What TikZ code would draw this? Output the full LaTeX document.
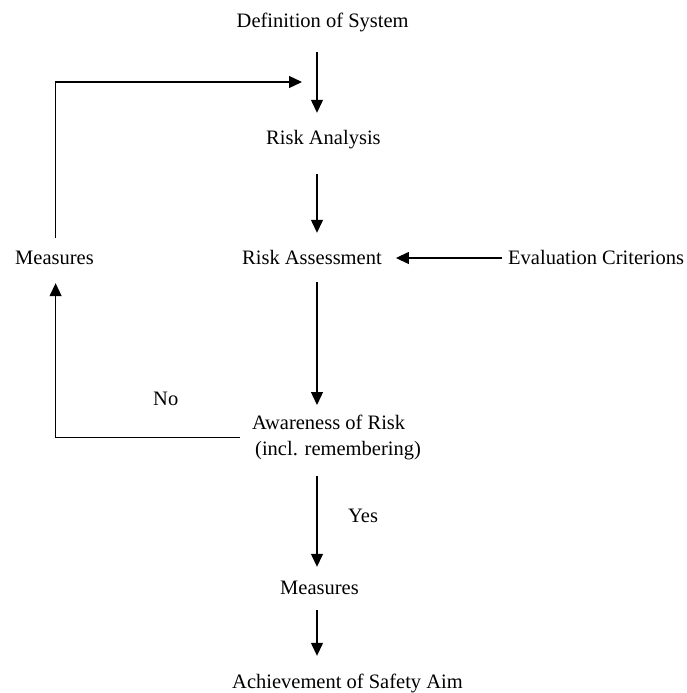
\documentclass[tikz,border=0pt]{standalone}
\usepackage{fontspec}
\setmainfont{Liberation Serif}
\usetikzlibrary{arrows.meta}
\begin{document}
\begin{tikzpicture}[x=1pt,y=-1pt,
  txt/.style={font=\fontsize{20.5}{26}\selectfont, inner sep=0pt, text height=16pt, text depth=4pt, anchor=base west},
  mtxt/.style={font=\fontsize{20.5}{26}\selectfont, inner sep=0pt, align=left, anchor=north west},
  arr/.style={line width=1.3pt, -{Triangle[length=13pt,width=12pt]}},
  ln/.style={line width=1.3pt}]
\useasboundingbox (0,0) rectangle (686,693);
\coordinate (ax) at (317,0);
\coordinate (lx) at (55.6,0);
\coordinate (join) at (317,82);

\node[txt] (def) at (236.5,28) {Definition of System};
\node[txt] (ra) at (266,144) {Risk Analysis};
\node[txt] (rass) at (242,264) {Risk Assessment};
\node[txt] (measL) at (15,264) {Measures};
\node[txt] (eval) at (508,264) {Evaluation Criterions};
\node[mtxt] (aw) at (252,415) {Awareness of Risk\\\hspace{3pt}(incl. remembering)};
\node[txt] (no) at (153,405) {No};
\node[txt] (yes) at (348,522) {Yes};
\node[txt] (mb) at (280,594) {Measures};
\node[txt] (ach) at (232,688) {Achievement of Safety Aim};

\draw[arr, shorten <=20pt, shorten >=15pt] (ax |- def.south) -- (ax |- ra.north);
\draw[arr, shorten <=26pt, shorten >=15pt] (ax |- ra.south) -- (ax |- rass.north);
\draw[arr, shorten <=14pt, shorten >=10pt] (ax |- rass.south) -- (ax |- aw.north);
\draw[arr, shorten <=15.5pt, shorten >=11pt] (ax |- aw.south) -- (ax |- mb.north);
\draw[arr, shorten <=12pt, shorten >=16pt] (ax |- mb.south) -- (ax |- ach.north);
\draw[arr, shorten <=6pt, shorten >=14pt] (eval.west) -- (rass.east);
\draw[arr, shorten <=12pt, shorten >=15pt] (aw.west) -| (lx |- measL.south);
\draw[arr, shorten <=10pt, shorten >=15pt] (lx |- measL.north) |- (join);
\end{tikzpicture}
\end{document}
